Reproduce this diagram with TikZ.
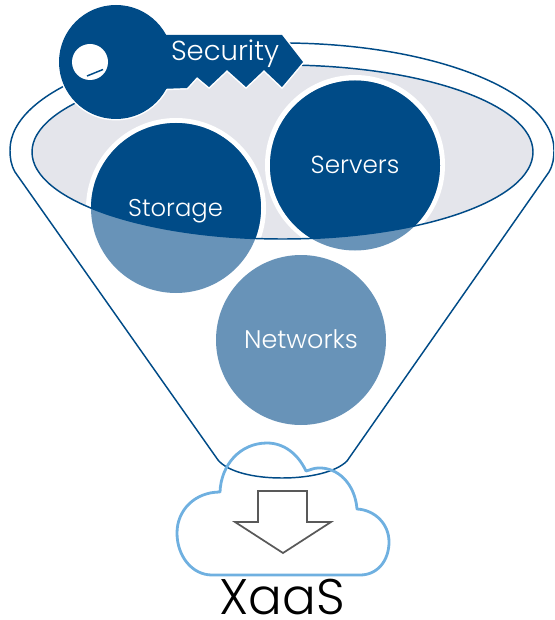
\documentclass[tikz,border=0pt]{standalone}
\usepackage{fontspec}
\setmainfont[UprightFont=* Light]{Poppins}
\definecolor{deep}{HTML}{004B87}
\definecolor{soft}{HTML}{6893B8}
\definecolor{mist}{HTML}{E4E5EB}
\definecolor{sky}{HTML}{6FB0E0}
\definecolor{arrowgray}{HTML}{595959}
\tikzset{
  funnelline/.style={draw=deep,line width=1.1pt,line join=round},
  label/.style={text=white,inner sep=0pt,font=\fontsize{18.5}{20}\selectfont},
}
\begin{document}
\begin{tikzpicture}[x=0.75pt,y=-0.75pt]
\useasboundingbox (0,0) rectangle (554,620);
\clip (0,0) rectangle (554,620);
% funnel
\draw[funnelline] (218,460) -- (15,172) .. controls (11,165) and (10,158) .. (10,150)
  .. controls (10,91) and (132,43) .. (282,43) .. controls (432,43) and (554,91) .. (554,150)
  .. controls (554,158) and (553,165) .. (549,172) -- (347,461)
  .. controls (336,472) and (310,478) .. (282,478) .. controls (254,478) and (228,472) .. (218,460) -- cycle;
% inner ellipse
\fill[mist] (282.5,152) ellipse [x radius=250.5, y radius=87];
% rings
\begin{scope}
  \clip (282.5,152) ellipse [x radius=250.5, y radius=87];
  \fill[white] (176,208) circle [radius=90];
  \fill[white] (355,165) circle [radius=90];
\end{scope}
% circles
\fill[soft] (176,208) circle [radius=85];
\fill[soft] (355,165.5) circle [radius=85];
\fill[soft] (301,340) circle [radius=85];
\begin{scope}
  \clip (282.5,152) ellipse [x radius=250.5, y radius=87];
  \fill[deep] (176,208) circle [radius=85];
  \fill[deep] (355,165.5) circle [radius=85];
\end{scope}
\draw[funnelline] (282.5,152) ellipse [x radius=250.5, y radius=87];
% key
\draw[white,line width=2.2pt,line join=miter] (116,62) circle [radius=57];
\draw[white,line width=2.2pt,line join=miter] (160,35) -- (282,35) -- (303,62) -- (282,87) -- (264,70) -- (246,87) -- (227,70) -- (209,87) -- (197,77) -- (187,88) -- (160,89) -- cycle;
\fill[deep] (116,62) circle [radius=57];
\fill[deep] (160,35) -- (282,35) -- (303,62) -- (282,87) -- (264,70) -- (246,87) -- (227,70) -- (209,87) -- (197,77) -- (187,88) -- (160,89) -- cycle;
\fill[white] (90,62) circle [radius=18];
\draw[deep,line width=1.1pt] (87,76) -- (103,69.5);
% cloud
\draw[sky,line width=2.1pt,line join=round] (212,575) -- (360,575)
  .. controls (378,575) and (389,560) .. (389,542)
  .. controls (389,524) and (375,510) .. (357,509)
  .. controls (355,484) and (338,467) .. (318,468)
  .. controls (314,468) and (310,470) .. (306,471)
  .. controls (298,454) and (284,443) .. (267,443)
  .. controls (240,443) and (221,465) .. (220,492)
  .. controls (195,492) and (177,510) .. (177,533)
  .. controls (177,556) and (192,575) .. (212,575) -- cycle;
% arrow
\draw[arrowgray,line width=1.3pt,line join=miter] (258,491) -- (307,491) -- (307,522) -- (331,522) -- (283,553) -- (235,522) -- (258,522) -- cycle;
% labels
\node[label,font=\fontsize{20.6}{22}\selectfont] (security) at (225,53.5) {Security};
\node[label,font=\fontsize{18.2}{20}\selectfont] (storage) at (175.5,211) {Storage};
\node[label] (servers) at (355,165) {Servers};
\node[label,font=\fontsize{19.1}{21}\selectfont] (networks) at (301,339) {Networks};
\node[inner sep=0pt,text=black,font=\fontsize{37.5}{40}\selectfont] (xaas) at (282,597) {XaaS};
\end{tikzpicture}
\end{document}
